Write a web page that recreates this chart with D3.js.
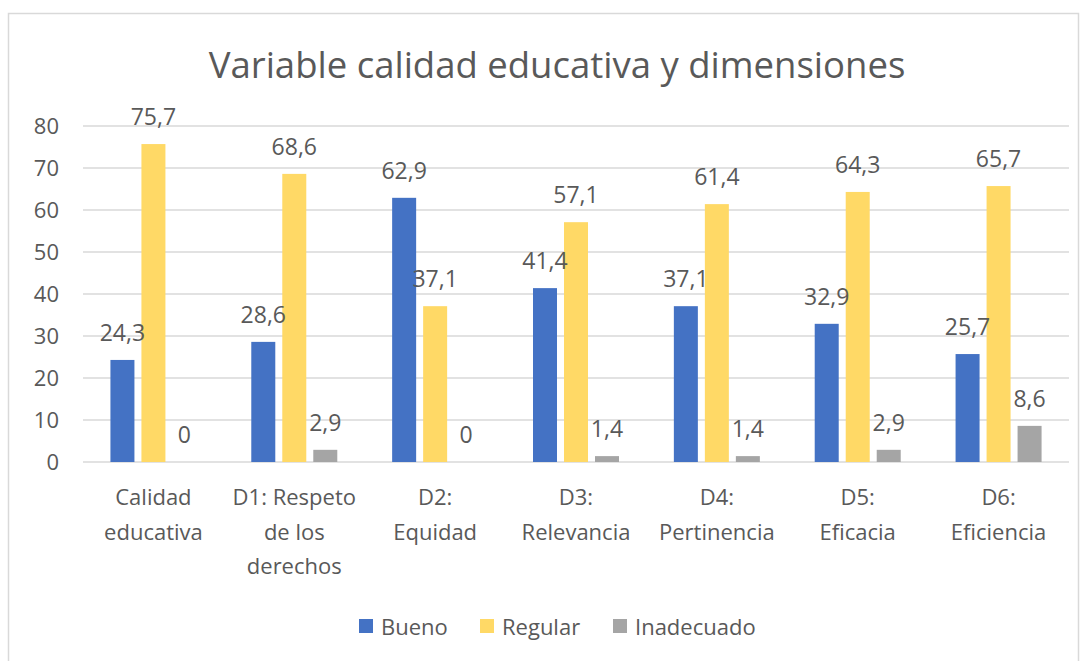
<!DOCTYPE html>
<html>
<head>
<meta charset="utf-8">
<script src="https://cdn.jsdelivr.net/npm/d3@7"></script>
<style>
  body { margin: 0; background: #fff; }
  text { font-family: "Open Sans", "Noto Sans", sans-serif; fill: #595959; }
</style>
</head>
<body>
<div id="chart"></div>
<script>
const categories = ["Calidad educativa", "D1: Respeto de los derechos", "D2: Equidad",
                    "D3: Relevancia", "D4: Pertinencia", "D5: Eficacia", "D6: Eficiencia"]
const catLines = [["Calidad", "educativa"], ["D1: Respeto", "de los", "derechos"], ["D2:", "Equidad"],
                  ["D3:", "Relevancia"], ["D4:", "Pertinencia"], ["D5:", "Eficacia"], ["D6:", "Eficiencia"]]
const seriesNames = ["Bueno", "Regular", "Inadecuado"]
const bueno = [24.3, 28.6, 62.9, 41.4, 37.1, 32.9, 25.7]
const regular = [75.7, 68.6, 37.1, 57.1, 61.4, 64.3, 65.7]
const inadecuado = [0, 2.9, 0, 1.4, 1.4, 2.9, 8.6]
const yTicks = [0, 10, 20, 30, 40, 50, 60, 70, 80]
const colors = ["#4472C4", "#FFD966", "#A5A5A5"]

const W = 1088, H = 661
const margin = {top: 126, right: 19, bottom: 199, left: 83}

const svg = d3.select("#chart").append("svg")
  .attr("width", W)
  .attr("height", H)

// chart frame
svg.append("rect")
  .attr("x", 8.5).attr("y", 13.5)
  .attr("width", 1070).attr("height", 670)
  .attr("fill", "none")
  .attr("stroke", "#d9d9d9")
  .attr("stroke-width", 1.5)

svg.append("text")
  .attr("x", 557).attr("y", 78)
  .attr("text-anchor", "middle")
  .style("font-size", "36.5px")
  .text("Variable calidad educativa y dimensiones")

const x = d3.scaleBand()
  .domain(categories)
  .range([margin.left, W - margin.right])

const y = d3.scaleLinear()
  .domain([0, 80])
  .range([H - margin.bottom, margin.top])

const barW = 24, gap = 7
const xs = d3.scaleBand()
  .domain(seriesNames)
  .range([0, 3 * barW + 2 * gap])
  .paddingInner(gap / (barW + gap))

// gridlines
svg.append("g")
  .selectAll("line")
  .data(yTicks)
  .join("line")
  .attr("x1", margin.left)
  .attr("x2", W - margin.right)
  .attr("y1", d => y(d))
  .attr("y2", d => y(d))
  .attr("stroke", "#d9d9d9")
  .attr("stroke-width", 1.5)

// y tick labels
svg.append("g")
  .selectAll("text")
  .data(yTicks)
  .join("text")
  .attr("x", 59)
  .attr("y", d => y(d))
  .attr("dy", "0.36em")
  .attr("text-anchor", "end")
  .style("font-size", "22px")
  .text(d => d)

const series = [bueno, regular, inadecuado]
const groupW = 3 * barW + 2 * gap
const off = (c, si) => x(c) + x.bandwidth() / 2 - groupW / 2 + xs(seriesNames[si])

const barsG = svg.append("g"),
      labelsG = svg.append("g")

series.forEach((vals, si) => {
  barsG.append("g").selectAll("rect")
    .data(vals)
    .join("rect")
    .attr("x", (d, i) => off(categories[i], si))
    .attr("y", d => y(d))
    .attr("width", xs.bandwidth())
    .attr("height", d => y(0) - y(d))
    .attr("fill", colors[si])
  // data labels sit above every bar
  labelsG.append("g").selectAll("text")
    .data(vals)
    .join("text")
    .attr("x", (d, i) => off(categories[i], si) + xs.bandwidth() / 2)
    .attr("y", d => y(d) - 19)
    .attr("text-anchor", "middle")
    .style("font-size", "23px")
    .text(d => String(d).replace(".", ","))
})

// category labels
const cl = svg.append("g")
  .selectAll("text")
  .data(categories)
  .join("text")
  .attr("x", d => x(d) + x.bandwidth() / 2)
  .attr("y", 505)
  .attr("text-anchor", "middle")
  .style("font-size", "22px")
cl.selectAll("tspan")
  .data((d, i) => catLines[i])
  .join("tspan")
  .attr("x", function() { return d3.select(this.parentNode).attr("x") })
  .attr("dy", (d, i) => i === 0 ? 0 : 34.5)
  .text(d => d)

// legend
const legX = [359, 480, 613]
const leg = svg.append("g")
seriesNames.forEach((s, i) => {
  leg.append("rect")
    .attr("x", legX[i]).attr("y", 619)
    .attr("width", 14).attr("height", 14)
    .attr("fill", colors[i])
  leg.append("text")
    .attr("x", legX[i] + 22).attr("y", 627)
    .attr("dy", "0.36em")
    .style("font-size", "22px")
    .text(s)
})
</script>
</body>
</html>
